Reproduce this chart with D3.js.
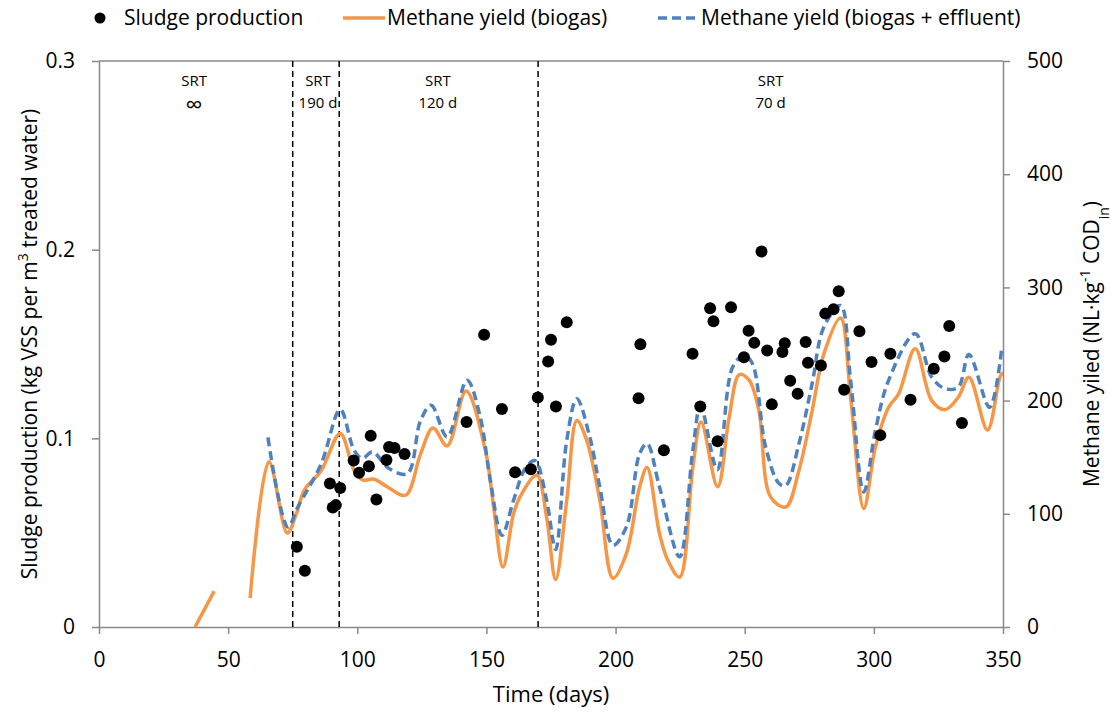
<!DOCTYPE html>
<html>
<head>
<meta charset="utf-8">
<script src="https://cdn.jsdelivr.net/npm/d3@7"></script>
<style>
    html, body { margin: 0; padding: 0; background: #fff; overflow: hidden; }
    svg { display: block; }
    text { font-family: "Open Sans", "Noto Sans", sans-serif; fill: #000; }
</style>
</head>
<body>
<svg id="chart"></svg>
<script>
// sludge production points (day, kg VSS per m3)
const sludgeDay = [76.6, 79.7, 89.4, 90.5, 91.7, 93.4, 98.6, 100.7, 104.5, 105.2, 107.4, 111.3, 112.3, 114.4, 118.3,
    142.3, 149.1, 156, 161.1, 167.2, 169.9, 173.9, 175, 176.9, 181.1, 208.9, 209.6, 218.7, 229.8, 232.8,
    236.6, 237.9, 239.5, 244.7, 249.7, 251.5, 253.7, 256.5, 258.7, 260.5, 264.6, 265.5, 267.6, 270.5,
    273.6, 274.5, 279.5, 281.2, 284.4, 286.4, 288.5, 294.4, 299.1, 302.5, 306.4, 314.2, 323.2, 327.3, 329.2, 334.1];
const sludgeVal = [0.0425, 0.0298, 0.076, 0.0633, 0.0646, 0.0737, 0.0882, 0.0817, 0.0852, 0.1014, 0.0676, 0.0885, 0.0954, 0.0949, 0.0917,
    0.1086, 0.1549, 0.1155, 0.082, 0.0836, 0.1217, 0.1407, 0.1522, 0.1169, 0.1615, 0.1212, 0.1499, 0.0937, 0.1448, 0.1169,
    0.169, 0.162, 0.0984, 0.1695, 0.143, 0.157, 0.1506, 0.199, 0.1466, 0.118, 0.1457, 0.1504, 0.1305, 0.1236,
    0.151, 0.140, 0.1386, 0.1661, 0.1684, 0.178, 0.1258, 0.1568, 0.1404, 0.1017, 0.1448, 0.1204, 0.1369, 0.1434, 0.1596, 0.1081];

// methane yield from biogas (null = gap in the line)
const biogasDay = [37.2, 44.6, 50,
    58.5, 65.8, 72.9, 76.4, 79.5, 86, 93.4, 98.8, 102, 106.5, 111.7, 118.7, 124.5, 129.3, 134.8, 142.1,
    149.6, 152.8, 156.4, 160.5, 163, 169.5, 173.3, 176.8, 181.1, 185, 188.8, 193.9, 199, 204.2, 209.3,
    212.2, 217, 220.2, 224.8, 229.9, 233.1, 239.5, 244, 247.9, 251.7, 255.5, 260, 265.9, 271, 276.1,
    280.6, 287.1, 291, 296.1, 300.6, 305.7, 309.6, 316, 322.4, 327.6, 332.7, 336.8, 344, 348.8, 350];
const biogasYield = [0, 31.7, null,
    25.6, 146, 83, 100, 121, 138, 171, 138, 130, 130.5, 123.7, 116.4, 153, 175.8, 160, 208.4,
    156, 106, 53, 100, 115, 134, 97, 42, 112, 182.5, 165, 112, 43, 65, 123.7,
    141, 82.6, 59, 44, 141, 181, 124, 185.5, 223, 218, 191, 115, 106, 138.5, 191,
    241, 273, 203, 104.7, 159, 194, 206, 245.8, 200, 192, 203, 220.7, 174, 220.7, 225];

// methane yield from biogas + effluent
const totalDay = [65.4, 73.1, 77, 86, 93.4, 98.8, 102, 105.9, 112.3, 119.4, 124.5, 128.6, 134.8, 142.5,
    147.6, 151.5, 156, 160.5, 165, 168.8, 173.3, 176.8, 181.1, 185, 190, 193.9, 199, 204.2, 209.3,
    212.2, 217, 224.8, 229.9, 232.9, 239.4, 245.3, 249.8, 253, 258.1, 263.3, 265.9, 271, 276.1,
    280.6, 287.1, 291, 296.1, 300.6, 305.7, 316, 322.4, 327.6, 332.7, 336.8, 344.8, 349.4];
const totalYield = [167.5, 88.4, 106, 144, 192, 156, 149, 154.6, 140, 135.5, 182.5, 195.8, 168, 218,
    185.5, 129.6, 81, 112, 140, 147, 112, 68.5, 165, 201.7, 168, 123.7, 72.3, 88.4, 153,
    162, 123.7, 62, 156, 195, 139, 229.5, 240, 232.5, 159, 126.7, 125, 162, 215,
    264.8, 284, 217.8, 119.3, 173.7, 217.8, 259, 220.7, 210.5, 212, 240.7, 194, 244];

// SRT phase boundaries and labels
const srtBounds = [75, 93, 170];
const srtLabelDay = [36.8, 84.8, 131.2, 260];
const srtLabelTop = ["SRT", "SRT", "SRT", "SRT"];
const srtLabelBottom = ["\u221E", "190 d", "120 d", "70 d"];

const xTicks = [0, 50, 100, 150, 200, 250, 300, 350];
const leftTicks = [0, 0.1, 0.2, 0.3];
const rightTicks = [0, 100, 200, 300, 400, 500];

const width = 1111, height = 717;
const margin = {top: 61, right: 108, bottom: 90, left: 99};
const innerWidth = width - margin.left - margin.right;
const innerHeight = height - margin.top - margin.bottom;
const axisColor = "#898989";
const orange = "#F79646";
const blue = "#4F81BD";

const svgRoot = d3.select("#chart")
    .attr("width", width)
    .attr("height", height);

const svg = svgRoot.append("g")
    .attr("transform", `translate(${margin.left},${margin.top})`);

// Scales
const x = d3.scaleLinear().domain([0, 350]).range([0, innerWidth]);
const yLeft = d3.scaleLinear().domain([0, 0.3]).range([innerHeight, 0]);
const yRight = d3.scaleLinear().domain([0, 500]).range([innerHeight, 0]);

svg.append("clipPath").attr("id", "plot-clip")
    .append("rect")
    .attr("width", innerWidth)
    .attr("height", innerHeight);

// Axes
function styleAxis(g) {
    g.select(".domain").attr("stroke", axisColor).attr("stroke-width", 1.5);
    g.selectAll(".tick line").attr("stroke", axisColor).attr("stroke-width", 1.5);
    g.selectAll(".tick text")
        .style("font-family", "'Open Sans', sans-serif")
        .style("font-size", "21px")
        .attr("fill", "#000");
}

svg.append("line")
    .attr("x1", 0).attr("x2", innerWidth)
    .attr("y1", 0).attr("y2", 0)
    .attr("stroke", axisColor)
    .attr("stroke-width", 1.5);

svg.append("g")
    .attr("transform", `translate(0,${innerHeight})`)
    .call(d3.axisBottom(x).tickValues(xTicks).tickFormat(d3.format("d")).tickSize(7).tickSizeOuter(0).tickPadding(18))
    .call(styleAxis);

svg.append("g")
    .call(d3.axisLeft(yLeft).tickValues(leftTicks).tickFormat(d => d === 0 ? "0" : d3.format(".1f")(d)).tickSize(7).tickSizeOuter(0).tickPadding(17))
    .call(styleAxis);

svg.append("g")
    .attr("transform", `translate(${innerWidth},0)`)
    .call(d3.axisRight(yRight).tickValues(rightTicks).tickFormat(d3.format("d")).tickSize(7).tickSizeOuter(0).tickPadding(17))
    .call(styleAxis);

// SRT phase lines
svg.selectAll("line.srt")
    .data(srtBounds)
    .enter()
    .append("line")
    .attr("class", "srt")
    .attr("x1", d => x(d)).attr("x2", d => x(d))
    .attr("y1", 0).attr("y2", innerHeight)
    .attr("stroke", "#000")
    .attr("stroke-width", 1.5)
    .attr("stroke-dasharray", "6,4");

srtLabelDay.forEach((d, i) => {
    svg.append("text")
        .attr("x", x(d)).attr("y", 25)
        .attr("text-anchor", "middle")
        .style("font-size", "15px")
        .text(srtLabelTop[i]);
    svg.append("text")
        .attr("x", x(d)).attr("y", i === 0 ? 52 : 47)
        .attr("text-anchor", "middle")
        .style("font-size", i === 0 ? "24px" : "15px")
        .text(srtLabelBottom[i]);
});

// Methane lines
const biogasData = biogasDay.map((d, i) => [d, biogasYield[i]]);
const totalData = totalDay.map((d, i) => [d, totalYield[i]]);

const line = d3.line()
    .defined(d => d[1] !== null)
    .x(d => x(d[0]))
    .y(d => yRight(d[1]))
    .curve(d3.curveCatmullRom.alpha(0.5));

const plot = svg.append("g").attr("clip-path", "url(#plot-clip)");

plot.append("path")
    .datum(biogasData)
    .attr("fill", "none")
    .attr("stroke", orange)
    .attr("stroke-width", 3.5)
    .attr("d", line);

plot.append("path")
    .datum(totalData)
    .attr("fill", "none")
    .attr("stroke", blue)
    .attr("stroke-width", 3.5)
    .attr("stroke-dasharray", "9,5")
    .attr("d", line);

// Sludge points
svg.selectAll("circle.sludge")
    .data(sludgeDay)
    .enter()
    .append("circle")
    .attr("class", "sludge")
    .attr("cx", d => x(d))
    .attr("cy", (d, i) => yLeft(sludgeVal[i]))
    .attr("r", 6)
    .attr("fill", "#000");

// Axis titles
svgRoot.append("text")
    .attr("x", margin.left + innerWidth / 2).attr("y", 702)
    .attr("text-anchor", "middle")
    .style("font-size", "22px")
    .text("Time (days)");

const leftTitle = svgRoot.append("text")
    .attr("transform", `translate(37,${margin.top + innerHeight / 2}) rotate(-90)`)
    .attr("text-anchor", "middle")
    .style("font-size", "21px");
leftTitle.append("tspan").text("Sludge production (kg VSS per m");
leftTitle.append("tspan").attr("baseline-shift", "super").style("font-size", "14px").text("3");
leftTitle.append("tspan").text(" treated water)");

const rightTitle = svgRoot.append("text")
    .attr("transform", `translate(1099,${margin.top + innerHeight / 2}) rotate(-90)`)
    .attr("text-anchor", "middle")
    .style("font-size", "21px");
rightTitle.append("tspan").text("Methane yiled (NL\u00B7kg");
rightTitle.append("tspan").attr("baseline-shift", "super").style("font-size", "14px").text("-1");
rightTitle.append("tspan").text(" COD");
rightTitle.append("tspan").attr("baseline-shift", "sub").style("font-size", "14px").text("in");
rightTitle.append("tspan").text(")");

// Legend
const legend = svgRoot.append("g").attr("transform", "translate(0,18)");

legend.append("circle")
    .attr("cx", 100).attr("cy", 0).attr("r", 5.5)
    .attr("fill", "#000");
legend.append("text")
    .attr("x", 124).attr("y", 7)
    .style("font-size", "21px")
    .text("Sludge production");

legend.append("line")
    .attr("x1", 343).attr("x2", 385).attr("y1", 0).attr("y2", 0)
    .attr("stroke", orange).attr("stroke-width", 3.5);
legend.append("text")
    .attr("x", 387).attr("y", 7)
    .style("font-size", "21px")
    .text("Methane yield (biogas)");

legend.append("line")
    .attr("x1", 658).attr("x2", 700).attr("y1", 0).attr("y2", 0)
    .attr("stroke", blue).attr("stroke-width", 3.5)
    .attr("stroke-dasharray", "9,5");
legend.append("text")
    .attr("x", 701).attr("y", 7)
    .style("font-size", "21px")
    .text("Methane yield (biogas + effluent)");
</script>
</body>
</html>
